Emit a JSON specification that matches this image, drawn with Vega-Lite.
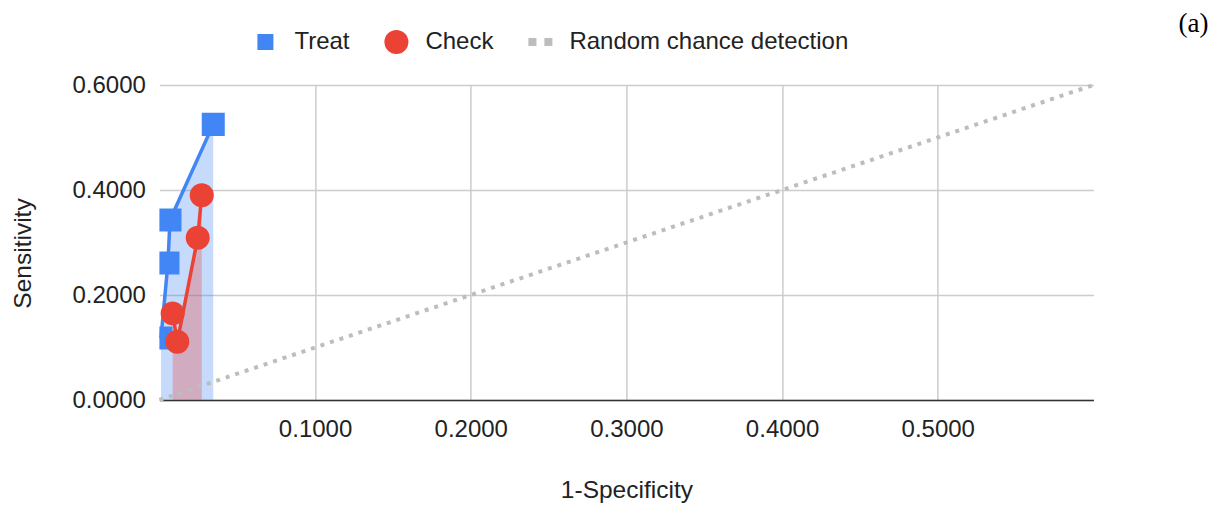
{
  "$schema": "https://vega.github.io/schema/vega-lite/v6.json",
  "width": 934,
  "height": 315,
  "autosize": {"type": "none"},
  "padding": {"left": 159.4, "top": 85, "right": 128.6, "bottom": 106},
  "background": "white",
  "config": {"view": {"stroke": null}},
  "title": {
    "text": "(a)",
    "anchor": "end",
    "frame": "group",
    "dx": 115,
    "offset": -29,
    "baseline": "alphabetic",
    "font": "Liberation Serif",
    "fontSize": 27,
    "fontWeight": "normal",
    "color": "#000000"
  },
  "data": {
    "values": [
      {"series": "Treat", "x": 0.001, "y": 0.118},
      {"series": "Treat", "x": 0.0055, "y": 0.261},
      {"series": "Treat", "x": 0.0068, "y": 0.343},
      {"series": "Treat", "x": 0.0346, "y": 0.525},
      {"series": "Check", "x": 0.0085, "y": 0.165},
      {"series": "Check", "x": 0.0115, "y": 0.111},
      {"series": "Check", "x": 0.0246, "y": 0.309},
      {"series": "Check", "x": 0.0272, "y": 0.39},
      {"series": "Random chance detection", "x": 0, "y": 0},
      {"series": "Random chance detection", "x": 0.6, "y": 0.6}
    ]
  },
  "encoding": {
    "x": {
      "field": "x",
      "type": "quantitative",
      "scale": {"domain": [0, 0.6], "nice": false, "zero": false},
      "axis": {
        "values": [0.1, 0.2, 0.3, 0.4, 0.5],
        "format": ".4f",
        "title": "1-Specificity",
        "grid": true,
        "gridColor": "#cccccc",
        "gridWidth": 1.5,
        "ticks": false,
        "tickSize": 0,
        "domain": true,
        "domainColor": "#333333",
        "domainWidth": 1.5,
        "labelFont": "Liberation Sans",
        "labelFontSize": 24,
        "labelColor": "#222222",
        "labelPadding": 17,
        "labelFlush": false,
        "titleFont": "Liberation Sans",
        "titleFontSize": 24.5,
        "titleFontWeight": "normal",
        "titleColor": "#222222",
        "titleX": 467,
        "titleY": 90,
        "titleBaseline": "middle",
        "titleAlign": "center"
      }
    },
    "y": {
      "field": "y",
      "type": "quantitative",
      "stack": null,
      "scale": {"domain": [0, 0.6], "nice": false},
      "axis": {
        "values": [0, 0.2, 0.4, 0.6],
        "format": ".4f",
        "title": "Sensitivity",
        "grid": true,
        "gridColor": "#cccccc",
        "gridWidth": 1.5,
        "ticks": false,
        "tickSize": 0,
        "domain": false,
        "labelFont": "Liberation Sans",
        "labelFontSize": 24,
        "labelColor": "#222222",
        "labelPadding": 14,
        "labelFlush": false,
        "titleFont": "Liberation Sans",
        "titleFontSize": 24.5,
        "titleFontWeight": "normal",
        "titleColor": "#222222",
        "titleX": -136,
        "titleY": 168,
        "titleAngle": -90,
        "titleBaseline": "middle",
        "titleAlign": "center"
      }
    },
    "color": {
      "field": "series",
      "type": "nominal",
      "scale": {
        "domain": ["Treat", "Check", "Random chance detection"],
        "range": ["#4285F4", "#EA4335", "#BDBDBD"]
      },
      "legend": {
        "orient": "none",
        "legendX": 94,
        "legendY": -55,
        "direction": "horizontal",
        "title": null,
        "padding": 0,
        "labelFont": "Liberation Sans",
        "labelFontSize": 24,
        "labelColor": "#222222",
        "labelLimit": 500,
        "symbolSize": 576,
        "labelOffset": 17,
        "columnPadding": 34,
        "symbolOpacity": 1,
        "symbolStrokeWidth": 0,
        "encode": {
          "symbols": {
            "update": {
              "shape": {"scale": "shape", "field": "value"},
              "fill": {"scale": "color", "field": "value"},
              "stroke": {"value": "transparent"},
              "opacity": {"value": 1},
              "fillOpacity": {"value": 1}
            }
          }
        }
      }
    }
  },
  "layer": [
    {
      "transform": [{"filter": "datum.series !== 'Random chance detection'"}],
      "mark": {"type": "area", "opacity": 0.3}
    },
    {
      "transform": [{"filter": "datum.series === 'Random chance detection'"}],
      "mark": {"type": "line", "strokeWidth": 4, "strokeDash": [4, 6], "strokeCap": "butt"}
    },
    {
      "transform": [{"filter": "datum.series === 'Treat'"}],
      "mark": {"type": "line", "strokeWidth": 3.5}
    },
    {
      "transform": [{"filter": "datum.series === 'Treat'"}],
      "mark": {"type": "point", "filled": true, "size": 1190, "opacity": 1, "clip": true},
      "encoding": {
        "shape": {
          "field": "series",
          "type": "nominal",
          "scale": {
            "domain": ["Treat", "Check", "Random chance detection"],
            "range": ["M-0.667,-0.667H0.667V0.667H-0.667Z", "circle", "M-1,-0.33H-0.33V0.33H-1Z M0.33,-0.33H1V0.33H0.33Z"]
          },
          "legend": null
        }
      }
    },
    {
      "transform": [{"filter": "datum.series === 'Check'"}],
      "mark": {"type": "line", "strokeWidth": 3.5}
    },
    {
      "transform": [{"filter": "datum.series === 'Check'"}],
      "mark": {"type": "point", "filled": true, "size": 576, "opacity": 1, "clip": true},
      "encoding": {
        "shape": {
          "field": "series",
          "type": "nominal",
          "legend": null
        }
      }
    }
  ]
}
